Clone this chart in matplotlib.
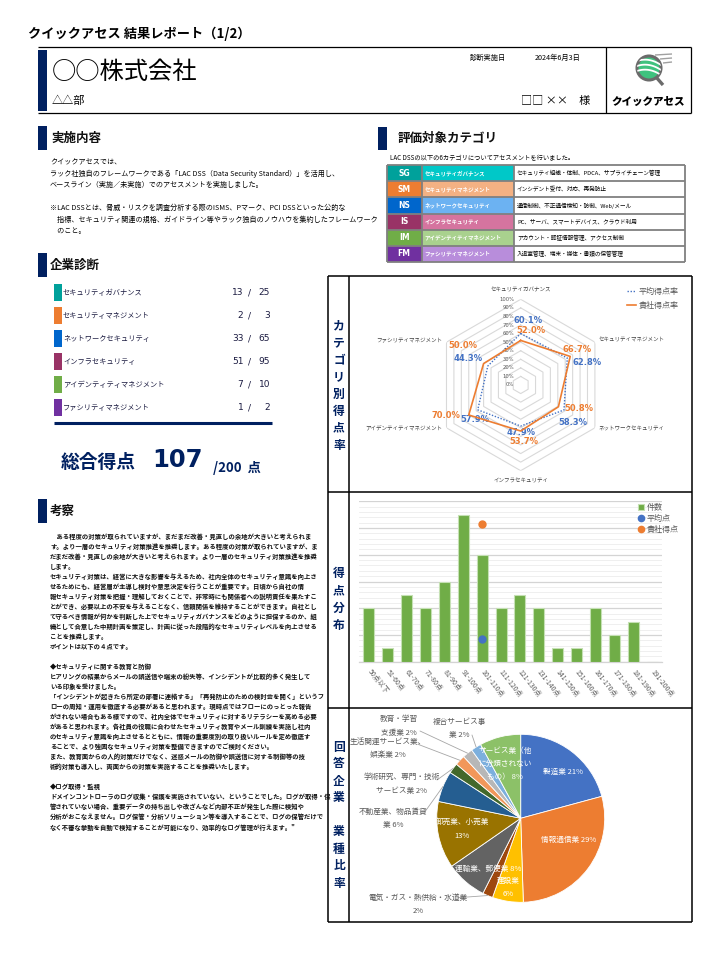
import numpy as np
import matplotlib
matplotlib.use('Agg')
import matplotlib.pyplot as plt
from matplotlib.patches import Rectangle, Circle

plt.rcParams['font.family'] = ['Noto Sans CJK JP', 'DejaVu Sans']

# ---------------- data ----------------
category_codes = ['SG', 'SM', 'NS', 'IS', 'IM', 'FM']
category_names = ['セキュリティガバナンス', 'セキュリティマネジメント', 'ネットワークセキュリティ',
                  'インフラセキュリティ', 'アイデンティティマネジメント', 'ファシリティマネジメント']
category_desc = ['セキュリティ組織・体制、PDCA、サプライチェーン管理',
                 'インシデント受付、対応、再発防止',
                 '通信制御、不正通信検知・防御、Web/メール',
                 'PC、サーバ、スマートデバイス、クラウド利用',
                 'アカウント・認証情報管理、アクセス制御',
                 '入退室管理、端末・媒体・書類の保管管理']
code_colors = ['#00A19B', '#ED7D31', '#0066CC', '#993366', '#70AD47', '#7030A0']
name_colors = ['#00C8C8', '#F4B183', '#6CB2F2', '#D5749F', '#A9D18E', '#B88DDB']

scores = [13, 2, 33, 51, 7, 1]
max_scores = [25, 3, 65, 95, 10, 2]
total_score = 107
total_max = 200

company_rate = [52.0, 66.7, 50.8, 53.7, 70.0, 50.0]
average_rate = [60.1, 62.8, 58.3, 47.9, 57.9, 44.3]

score_bins = ['50点以下', '51-60点', '61-70点', '71-80点', '81-90点', '91-100点',
              '101-110点', '111-120点', '121-130点', '131-140点', '141-150点',
              '151-160点', '161-170点', '171-180点', '181-190点', '191-200点']
bin_counts = [4, 1, 5, 4, 6, 11, 8, 4, 5, 4, 1, 1, 4, 2, 3, 0]
point_bin = '101-110点'
average_point = 1.7
company_point = 10.3

industries = ['製造業', '情報通信業', '建設業', '電気・ガス・熱供給・水道業', '運輸業、郵便業',
              '卸売業、小売業', '不動産業、物品賃貸業', '学術研究、専門・技術サービス業',
              '生活関連サービス業、娯楽業', '教育・学習支援業', '複合サービス事業',
              'サービス業（他に分類されないもの）']
industry_pct = [21, 29, 6, 2, 8, 13, 6, 2, 2, 2, 2, 8]
industry_colors = ['#4472C4', '#ED7D31', '#FFC000', '#9E480E', '#636363', '#997300',
                   '#255E91', '#43682B', '#F1975A', '#B7B7B7', '#7CAFDD', '#8CC168']

intro_lines = ['クイックアセスでは、',
               'ラック社独自のフレームワークである「LAC DSS（Data Security Standard）」を活用し、',
               'ベースライン（実施／未実施）でのアセスメントを実施しました。',
               '',
               '※LAC DSSとは、脅威・リスクを調査分析する際のISMS、Pマーク、PCI DSSといった公的な',
               '　指標、セキュリティ関連の規格、ガイドライン等やラック独自のノウハウを集約したフレームワーク',
               '　のこと。']

remark_lines = [
    '　ある程度の対策が取られていますが、まだまだ改善・見直しの余地が大きいと考えられま',
    'す。より一層のセキュリティ対策推進を推奨します。ある程度の対策が取られていますが、ま',
    'だまだ改善・見直しの余地が大きいと考えられます。より一層のセキュリティ対策推進を推奨',
    'します。',
    'セキュリティ対策は、経営に大きな影響を与えるため、社内全体のセキュリティ意識を向上さ',
    'せるためにも、経営層が主導し検討や意思決定を行うことが重要です。日頃から自社の情',
    '報セキュリティ対策を把握・理解しておくことで、非常時にも関係者への説明責任を果たすこ',
    'とができ、必要以上の不安を与えることなく、信頼関係を維持することができます。自社とし',
    'て守るべき情報が何かを判断した上でセキュリティガバナンスをどのように担保するのか、組',
    '織として合意した中期計画を策定し、計画に従った段階的なセキュリティレベルを向上させる',
    'ことを推奨します。',
    'ポイントは以下の４点です。',
    '',
    '◆セキュリティに関する教育と防御',
    'ヒアリングの結果からメールの誤送信や端末の紛失等、インシデントが比較的多く発生して',
    'いる印象を受けました。',
    '「インシデントが起きたら所定の部署に連絡する」「再発防止のための検討会を開く」というフ',
    'ローの周知・運用を徹底する必要があると思われます。現時点ではフローにのっとった報告',
    'がされない場合もある様ですので、社内全体でセキュリティに対するリテラシーを高める必要',
    'があると思われます。各社員の役職に合わせたセキュリティ教育やメール訓練を実施し社内',
    'のセキュリティ意識を向上させるとともに、情報の重要度別の取り扱いルールを定め徹底す',
    'ることで、より強固なセキュリティ対策を整備できますのでご検討ください。',
    'また、教育面からの人的対策だけでなく、迷惑メールの防御や誤送信に対する制御等の技',
    '術的対策も導入し、両面からの対策を実施することを推奨いたします。',
    '',
    '◆ログ取得・監視',
    'ドメインコントローラのログ収集・保護を実施されていない、ということでした。ログが取得・保',
    '管されていない場合、重要データの持ち出しや改ざんなど内部不正が発生した際に検知や',
    '分析がおこなえません。ログ保管・分析ソリューション等を導入することで、ログの保管だけで',
    'なく不審な挙動を自動で検知することが可能になり、効率的なログ管理が行えます。"']

# ---------------- page ----------------
W, H = 725, 964
fig = plt.figure(figsize=(W / 100, H / 100), dpi=100)
fig.patch.set_facecolor('white')
bg = fig.add_axes([0, 0, 1, 1])
bg.set_xlim(0, W)
bg.set_ylim(H, 0)
bg.axis('off')

NAVY = '#002060'
TXT = '#1A1A40'


def frect(x0, y0, x1, y1):
    return [x0 / W, 1 - y1 / H, (x1 - x0) / W, (y1 - y0) / H]


def seg(xs, ys, lw=0.8, color='black', **kw):
    bg.plot(xs, ys, color=color, lw=lw, solid_capstyle='butt', **kw)


def section(x, y0, y1, label, tx):
    bg.add_patch(Rectangle((x, y0), 9, y1 - y0, color=NAVY, lw=0))
    bg.text(tx, (y0 + y1) / 2, label, fontsize=9, weight='bold', va='center', ha='left', color='#111111')


# title
bg.text(28, 34, 'クイックアセス 結果レポート（1/2）', fontsize=9.5, weight='bold', va='center')

# header box
seg([38, 691], [47, 47], lw=0.9)
seg([38, 691], [113, 113], lw=0.9)
seg([691, 691], [47, 113], lw=0.9)
seg([606, 606], [47, 113], lw=0.9)
bg.add_patch(Rectangle((38, 50), 9, 61, color=NAVY, lw=0))
bg.text(52, 72, '○○株式会社', fontsize=17.5, va='center', ha='left')
bg.text(52, 101, '△△部', fontsize=8, va='center', ha='left')
bg.text(470, 58, '診断実施日', fontsize=5.2, va='center', ha='left')
bg.text(535, 58, '2024年6月3日', fontsize=5.2, va='center', ha='left')
bg.text(521, 101, '□□ ××　様', fontsize=8, va='center', ha='left')

# logo
logo = Circle((649, 68), 12, fc='#3FC27E', ec='#6B6B6B', lw=2.2, zorder=3)
bg.add_patch(logo)
for dy in (-5, 0, 5):
    t = np.linspace(-1, 1, 30)
    ln, = bg.plot(649 + 12 * t, 68 + dy - 3 * (1 - t ** 2) + 2 * t, color='white', lw=1.3, zorder=4)
    ln.set_clip_path(logo)
seg([656, 663], [77, 85], lw=2.4, color='#6B6B6B', zorder=4)
for yy, x0 in ((55, 655), (59, 660), (63, 663)):
    seg([x0, 672], [yy, yy - 1], lw=1.0, color='#A0A0A0')
bg.text(648, 101.5, 'クイックアセス', fontsize=7.6, weight='heavy', ha='center', va='center')

# ---- 実施内容 ----
section(38, 126, 150, '実施内容', 51)
for i, line in enumerate(intro_lines):
    bg.text(50, 162 + 11.5 * i, line, fontsize=5.1, va='center', ha='left')

# ---- 評価対象カテゴリ ----
section(378, 127, 150, '評価対象カテゴリ', 398)
bg.text(390, 158, 'LAC DSSの以下の6カテゴリについてアセスメントを行いました。', fontsize=4.5, va='center')
tx0, tx1, tx2, tx3 = 386.7, 421.7, 514, 685
ty0, rh = 165.3, 16.07
for i in range(6):
    y = ty0 + rh * i
    bg.add_patch(Rectangle((tx0, y), tx1 - tx0, rh, fc=code_colors[i], ec='none'))
    bg.add_patch(Rectangle((tx1, y), tx2 - tx1, rh, fc=name_colors[i], ec='none'))
    bg.text((tx0 + tx1) / 2, y + rh / 2, category_codes[i], color='white', fontsize=5.5,
            weight='bold', ha='center', va='center', family=['DejaVu Sans'])
    bg.text(tx1 + 3, y + rh / 2, category_names[i], color='white', fontsize=4.0,
            weight='bold', ha='left', va='center')
    bg.text(tx2 + 3, y + rh / 2, category_desc[i], color='black', fontsize=4.1,
            ha='left', va='center')
for i in range(7):
    seg([tx0, tx3], [ty0 + rh * i] * 2, lw=1.3, color='#808080')
for xx in (tx0, tx1, tx2, tx3):
    seg([xx, xx], [ty0, ty0 + rh * 6], lw=1.3, color='#808080')

# ---- 企業診断 ----
section(38, 253, 277, '企業診断', 50)
for i in range(6):
    yc = 292.7 + 23 * i
    bg.add_patch(Rectangle((54, yc - 8.3), 8, 16.6, color=code_colors[i], lw=0))
    bg.text(63, yc, category_names[i], fontsize=5.2, color=TXT, va='center', ha='left')
    bg.text(243.3, yc, f'{scores[i]}', fontsize=6.5, color=TXT, va='center', ha='right',
            family=['DejaVu Sans'])
    bg.text(249.5, yc, '/', fontsize=6.5, color=TXT, va='center', ha='center', family=['DejaVu Sans'])
    bg.text(270, yc, f'{max_scores[i]}', fontsize=6.5, color=TXT, va='center', ha='right',
            family=['DejaVu Sans'])
seg([54, 272], [422.7, 422.7], lw=2.2, color=NAVY)
bg.text(61, 463, '総合得点', fontsize=13.5, weight='bold', color=NAVY, va='center', ha='left')
bg.text(152, 460, f'{total_score}', fontsize=17.5, weight='bold', color=NAVY, va='center',
        ha='left', family=['DejaVu Sans'])
bg.text(213, 468, f'/{total_max}  点', fontsize=9.5, weight='bold', color=NAVY, va='center', ha='left')

# ---- 考察 ----
section(38, 499, 523, '考察', 50)
for i, line in enumerate(remark_lines):
    bg.text(50, 537 + 10 * i, line, fontsize=4.55, weight='bold', va='center', ha='left', color='#111111')

# ---- right big box ----
BL, BD, BR, BT, BB = 328, 349, 692, 276, 922
for yy in (BT, 492, 707.7, BB):
    seg([BL, BR], [yy, yy], lw=1.1)
for xx in (BL, BD, BR):
    seg([xx, xx], [BT, BB], lw=1.1)


def vlabel(chars, y0, step=17):
    for i, ch in enumerate(chars):
        if ch.strip():
            bg.text(339, y0 + step * i, ch, fontsize=8.5, weight='bold', color=NAVY, ha='center', va='center')


vlabel('カテゴリ別得点率', 326)
vlabel('得点分布', 574)
vlabel('回答企業　業種比率', 747)

# ---- radar chart ----
cx, cy, R = 520.7, 385, 85.7
axr = fig.add_axes(frect(cx - R, cy - R, cx + R, cy + R), projection='polar')
axr.set_theta_offset(np.pi / 2)
axr.set_theta_direction(-1)
axr.set_ylim(0, 100)
axr.grid(False)
axr.set_xticks([])
axr.set_yticks([])
axr.spines['polar'].set_visible(False)
axr.patch.set_visible(False)
theta = np.arange(6) * 2 * np.pi / 6
theta_c = np.append(theta, theta[0])
for r in range(10, 101, 10):
    axr.plot(theta_c, [r] * 7, color='#D9D9D9', lw=0.8, zorder=1)
l_avg, = axr.plot(theta_c, average_rate + average_rate[:1], color='#4472C4', lw=1.0, ls=(0, (1, 1.2)),
                  zorder=3, label='平均得点率')
l_com, = axr.plot(theta_c, company_rate + company_rate[:1], color='#ED7D31', lw=1.2, zorder=4,
                  label='貴社得点率')
for r in range(0, 101, 10):
    axr.annotate(f'{r}%', xy=(0, r), xytext=(-6.5, 0), textcoords='offset pixels', ha='right',
                 va='center', fontsize=3.8, color='#595959', family=['DejaVu Sans'], annotation_clip=False)
cat_off = [((0, 10), 'center'), ((4, 2), 'left'), ((4, -1), 'left'),
           ((0, -10), 'center'), ((-4, -1), 'right'), ((-4, 2), 'right')]
for i, name in enumerate(category_names):
    off, ha = cat_off[i]
    axr.annotate(name, xy=(theta[i], 100), xytext=off, textcoords='offset pixels', ha=ha, va='center',
                 fontsize=4, color='#404040', annotation_clip=False)
com_off = [(10, 10), (6.5, 7), (20, -2), (3, -10), (-23, -1), (-21, 17.6)]
avg_off = [(7, 13), (20, -4.6), (9, -13), (0, -6), (-3, -10), (-20, 8)]
for i in range(6):
    axr.annotate(f'{average_rate[i]:.1f}%', xy=(theta[i], average_rate[i]), xytext=avg_off[i],
                 textcoords='offset pixels', ha='center', va='center', fontsize=6, weight='bold',
                 color='#4472C4', family=['DejaVu Sans'], annotation_clip=False)
    axr.annotate(f'{company_rate[i]:.1f}%', xy=(theta[i], company_rate[i]), xytext=com_off[i],
                 textcoords='offset pixels', ha='center', va='center', fontsize=6, weight='bold',
                 color='#ED7D31', family=['DejaVu Sans'], annotation_clip=False)
axr.legend(handles=[l_avg, l_com], loc='upper left', bbox_to_anchor=(627 / W, 1 - 287 / H),
           bbox_transform=fig.transFigure, frameon=False, fontsize=5.8, handlelength=1.1,
           handletextpad=0.3, labelspacing=0.65, borderaxespad=0, borderpad=0, labelcolor='#595959')

# ---- bar chart ----
axb = fig.add_axes(frect(359.3, 501.3, 661.7, 661.7))
xpos = np.arange(len(score_bins))
h_bar = axb.bar(xpos, bin_counts, width=0.58, color='#70AD47', edgecolor='#C5E0B4', lw=0.8,
                label='件数', zorder=3)
pi_ = score_bins.index(point_bin)
h_avg, = axb.plot([pi_], [average_point], 'o', color='#4472C4', ms=5, label='平均点', zorder=4, lw=0)
h_com, = axb.plot([pi_], [company_point], 'o', color='#ED7D31', ms=5, label='貴社得点', zorder=4, lw=0)
axb.set_xlim(-0.5, len(score_bins) - 0.5)
axb.set_ylim(0, 12)
axb.set_yticks(np.arange(0, 12.01, 2))
axb.set_yticks(np.arange(0, 12.01, 0.4), minor=True)
axb.grid(axis='y', which='major', color='#D4D4D4', lw=0.9, zorder=0)
axb.grid(axis='y', which='minor', color='#EDEDED', lw=0.6, zorder=0)
axb.tick_params(axis='y', which='both', length=0, labelleft=False)
axb.set_xticks(xpos)
axb.set_xticklabels(score_bins, rotation=-52, ha='left', va='center', rotation_mode='anchor',
                    fontsize=5.0, color='#595959')
axb.tick_params(axis='x', length=0, pad=6)
for s in ('top', 'left', 'right'):
    axb.spines[s].set_visible(False)
axb.spines['bottom'].set_color('#D4D4D4')
axb.spines['bottom'].set_linewidth(0.9)
axb.set_facecolor('none')
axb.legend(handles=[h_bar, h_avg, h_com], loc='upper left', bbox_to_anchor=(638 / W, 1 - 503 / H),
           bbox_transform=fig.transFigure, frameon=False, fontsize=5.8, handlelength=0.8,
           handletextpad=0.3, labelspacing=0.25, borderaxespad=0, borderpad=0, labelcolor='#595959',
           markerscale=0.9)

# ---- pie chart ----
pcx, pcy, PR = 520.7, 818.3, 84
axp = fig.add_axes(frect(pcx - PR, pcy - PR, pcx + PR, pcy + PR))
wedges, _ = axp.pie(industry_pct, colors=industry_colors, startangle=90, counterclock=False,
                    wedgeprops=dict(edgecolor='white', linewidth=0.6))
axp.set_xlim(-1, 1)
axp.set_ylim(-1, 1)
axp.set_aspect('equal')

# overlay for pie labels (drawn above the pie)
top = fig.add_axes([0, 0, 1, 1])
top.set_xlim(0, W)
top.set_ylim(H, 0)
top.axis('off')
top.patch.set_visible(False)

inside = {0: ('製造業 21%', 563, 771.7), 1: ('情報通信業 29%', 569, 840),
          2: ('建設業\n6%', 508, 887), 4: ('運輸業、郵便業 8%', 488, 869.3),
          5: ('卸売業、小売業\n13%', 462, 829), 11: ('サービス業（他\nに分類されない\nもの） 8%', 505, 764)}
for k, (t, x, y) in inside.items():
    top.text(x, y, t, fontsize=5.5, color='white', ha='center', va='center', linespacing=1.9)
outside = {3: ('電気・ガス・熱供給・水道業\n2%', 418, 904.5, 458, 897.7),
           6: ('不動産業、物品賃貸\n業 6%', 393, 818.5, 425, 811.7),
           7: ('学術研究、専門・技術\nサービス業 2%', 402, 784, 437, 780),
           8: ('生活関連サービス業、\n娯楽業 2%', 388, 748.5, 418, 744.3),
           9: ('教育・学習\n支援業 2%', 399, 726, 420, 731),
           10: ('複合サービス事\n業 2%', 459, 728.5, 472, 735)}
for k, (t, x, y, lx, ly) in outside.items():
    top.text(x, y, t, fontsize=5.5, color='#595959', ha='center', va='center', linespacing=1.9)
    w = wedges[k]
    a = np.deg2rad((w.theta1 + w.theta2) / 2)
    axp.annotate('', xy=(np.cos(a), np.sin(a)), xycoords='data', xytext=(lx, ly), textcoords=top.transData,
                 arrowprops=dict(arrowstyle='-', color='#A6A6A6', lw=0.6, shrinkA=0, shrinkB=0),
                 annotation_clip=False)

fig.savefig('out.png', dpi=100, facecolor='white')
